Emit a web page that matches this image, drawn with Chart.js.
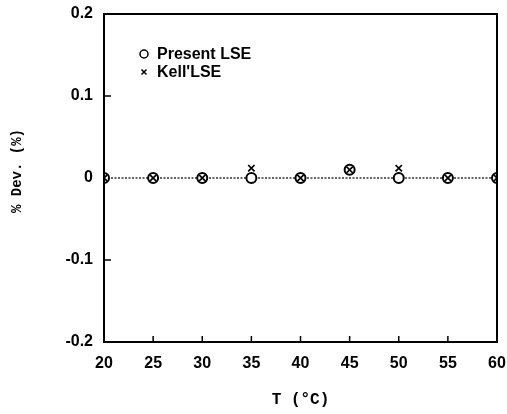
<!DOCTYPE html>
<html>
<head>
<meta charset="utf-8">
<script src="https://cdn.jsdelivr.net/npm/chart.js@4/dist/chart.umd.min.js"></script>
<style>
  html, body { margin: 0; padding: 0; background: #fff; }
  #wrap { width: 507px; height: 414px; position: relative; }
</style>
</head>
<body>
<div id="wrap"><canvas id="c" width="507" height="414"></canvas></div>
<script>
// Data
const temperatures = [20, 25, 30, 35, 40, 45, 50, 55, 60];
const presentLSE   = [0, 0, 0, 0, 0, 0.01, 0, 0, 0];
const kellLSE      = [0, 0, 0, 0.012, 0, 0.01, 0.012, 0, 0];
const zeroLine     = [0, 0, 0, 0, 0, 0, 0, 0, 0];
const seriesNames  = ["Present LSE", "Kell'LSE"];
const xTicks = [20, 25, 30, 35, 40, 45, 50, 55, 60];
const yTicks = [-0.2, -0.1, 0, 0.1, 0.2];
const yTitle = '% Dev. (%)';
const xTitle = 'T (°C)';

const toPts = (ys) => temperatures.map((t, i) => ({x: t, y: ys[i]}));

const boxAndTicks = {
  id: 'boxAndTicks',
  afterDatasetsDraw(chart) {
    const {ctx, chartArea: a, scales: {x, y}} = chart;
    ctx.save();
    ctx.strokeStyle = '#000';
    ctx.lineWidth = 2;
    ctx.strokeRect(a.left, a.top, a.right - a.left, a.bottom - a.top);
    ctx.lineWidth = 1.5;
    ctx.beginPath();
    xTicks.slice(1, -1).forEach(v => {
      const px = x.getPixelForValue(v);
      ctx.moveTo(px, a.bottom); ctx.lineTo(px, a.bottom - 6);
    });
    yTicks.slice(1, -1).forEach(v => {
      if (v === 0) return;
      const py = y.getPixelForValue(v);
      ctx.moveTo(a.left, py); ctx.lineTo(a.left + 7, py);
    });
    ctx.stroke();
    // legend
    const lx = a.left + 40, ly = a.top + 40;
    const styles = [
      {pointStyle: 'circle', radius: 4, borderWidth: 1.5, rotation: 0},
      {pointStyle: 'crossRot', radius: 3.5, borderWidth: 1.5, rotation: 0}
    ];
    ctx.font = 'bold 16px "Liberation Sans", Arial, sans-serif';
    ctx.textBaseline = 'middle';
    seriesNames.forEach((name, i) => {
      const yy = ly + i * 18;
      ctx.strokeStyle = '#000';
      ctx.fillStyle = '#fff';
      Chart.helpers.drawPoint(ctx, styles[i], lx, yy);
      ctx.fillStyle = '#000';
      ctx.fillText(name, lx + 13, yy + 1);
    });
    // y axis title
    ctx.save();
    ctx.translate(17, (a.top + a.bottom) / 2 - 7);
    ctx.rotate(-Math.PI / 2);
    ctx.textAlign = 'center';
    ctx.textBaseline = 'middle';
    ctx.font = 'bold 14px "Liberation Mono", "DejaVu Sans Mono", monospace';
    ctx.fillStyle = '#000';
    ctx.fillText(yTitle, 0, 0);
    ctx.restore();
    ctx.restore();
  }
};

new Chart(document.getElementById('c'), {
  type: 'scatter',
  data: {
    datasets: [
      {
        label: 'zero',
        data: toPts(zeroLine),
        showLine: true,
        borderColor: '#333',
        borderWidth: 1.5,
        borderDash: [2, 1.5],
        pointRadius: 0,
        order: 3
      },
      {
        label: seriesNames[0],
        data: toPts(presentLSE),
        pointStyle: 'circle',
        pointRadius: 5,
        pointBorderWidth: 2,
        borderColor: '#000',
        backgroundColor: '#fff',
        order: 2
      },
      {
        label: seriesNames[1],
        data: toPts(kellLSE),
        pointStyle: 'crossRot',
        pointRadius: 4.5,
        pointBorderWidth: 1.7,
        borderColor: '#000',
        backgroundColor: '#000',
        order: 1
      }
    ]
  },
  options: {
    responsive: false,
    animation: false,
    layout: { padding: { top: 14, right: 10, left: 0, bottom: 0 } },
    plugins: { legend: { display: false }, tooltip: { enabled: false } },
    scales: {
      x: {
        type: 'linear',
        min: 20, max: 60,
        afterBuildTicks: (s) => { s.ticks = xTicks.map(v => ({value: v})); },
        afterFit: (s) => { s.height = 72; s.paddingLeft = 0; s.paddingRight = 0; },
        ticks: {
          color: '#000',
          padding: 12,
          font: { family: '"Liberation Sans", Arial, sans-serif', size: 16, weight: 'bold' },
          maxRotation: 0
        },
        grid: { display: false, drawTicks: false },
        border: { display: true, color: '#000', width: 2 },
        title: {
          display: true,
          text: xTitle,
          color: '#000',
          font: { family: '"Liberation Mono", "DejaVu Sans Mono", monospace', size: 16, weight: 'bold' },
          padding: { top: 0, bottom: 4 }
        }
      },
      y: {
        type: 'linear',
        min: -0.2, max: 0.2,
        afterBuildTicks: (s) => { s.ticks = yTicks.map(v => ({value: v})); },
        afterFit: (s) => { s.width = 104; s.paddingTop = 0; s.paddingBottom = 0; },
        ticks: {
          color: '#000',
          padding: 11,
          font: { family: '"Liberation Sans", Arial, sans-serif', size: 16, weight: 'bold' },
          callback: (v) => (v === 0 ? '0' : Number(v).toFixed(1))
        },
        grid: { display: false, drawTicks: false },
        border: { display: true, color: '#000', width: 2 }
      }
    }
  },
  plugins: [boxAndTicks]
});
</script>
</body>
</html>
